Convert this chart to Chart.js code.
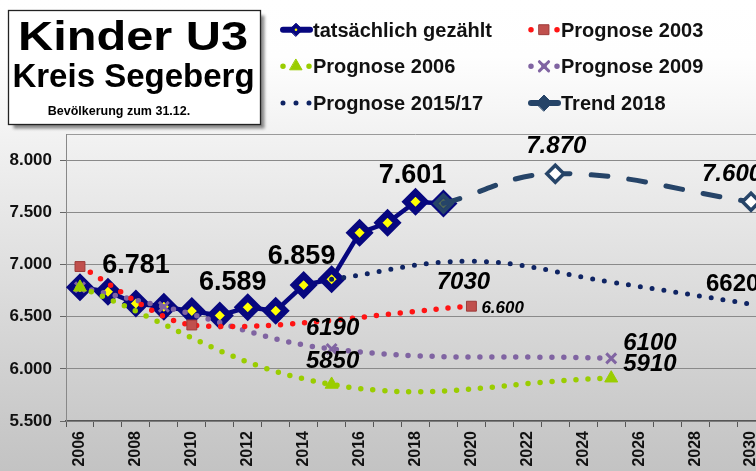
<!DOCTYPE html>
<html>
<head>
<meta charset="utf-8">
<title>Kinder U3 Kreis Segeberg</title>
<script src="https://cdn.jsdelivr.net/npm/chart.js@4.4.1/dist/chart.umd.min.js"></script>
<style>
  html, body { margin: 0; padding: 0; overflow: hidden; background: #fff; }
  #chart { display: block; }
</style>
</head>
<body>
<canvas id="chart" width="766" height="471"></canvas>
<script>
// years on the category axis
var years = ['2006', '2007', '2008', '2009', '2010', '2011', '2012', '2013', '2014', '2015',
             '2016', '2017', '2018', '2019', '2020', '2021', '2022', '2023', '2024', '2025',
             '2026', '2027', '2028', '2029', '2030'];
var xTickLabels = ['2006', '2008', '2010', '2012', '2014', '2016', '2018', '2020', '2022', '2024', '2026', '2028', '2030'];
var yTicks = [5500, 6000, 6500, 7000, 7500, 8000];

//                2006  2007  2008  2009  2010  2011  2012  2013  2014  2015  2016  2017  2018  2019  2020  ...
var actual   = [6781, 6738, 6626, 6594, 6553, 6511, 6589, 6556, 6802, 6859, 7303, 7399, 7601, 7585, null,
                null, null, null, null, null, null, null, null, null, null];
var prog2003 = [6980, null, null, null, 6420, null, null, null, null, null, null, null, null, null, 6600,
                null, null, null, null, null, null, null, null, null, null];
var prog2006 = [6781, null, null, null, null, null, null, null, null, 5850, null, null, null, null, null,
                null, null, null, null, 5910, null, null, null, null, null];
var prog2009 = [6781, null, null, 6594, null, null, null, null, null, 6190, null, null, null, null, null,
                null, null, null, null, 6100, null, null, null, null, null];
var prog1517 = [null, null, null, null, null, null, null, null, null, 6859, null, null, null, null, 7030,
                null, null, null, null, 6830, null, null, null, null, 6620];
var trend18  = [null, null, null, null, null, null, null, null, null, null, null, null, null, 7585, null,
                null, null, 7870, null, null, null, null, null, null, 7600];

// value labels: which point, offset from it, style
var valueLabels = [
  { series: actual,   year: '2006', dx: 56,  dy: -14, dots: true,  italic: false, size: 27, align: 'center' },
  { series: actual,   year: '2012', dx: -15, dy: -17, dots: true,  italic: false, size: 27, align: 'center' },
  { series: actual,   year: '2015', dx: -30, dy: -15, dots: true,  italic: false, size: 27, align: 'center' },
  { series: actual,   year: '2018', dx: -3,  dy: -19, dots: true,  italic: false, size: 27, align: 'center' },
  { series: trend18,  year: '2023', dx: 1,   dy: -21, dots: true,  italic: true,  size: 24, align: 'center' },
  { series: trend18,  year: '2030', dx: -49, dy: -21, dots: true,  italic: true,  size: 24, align: 'left' },
  { series: prog1517, year: '2020', dx: -8,  dy: 28,  dots: false, italic: true,  size: 24, align: 'center' },
  { series: prog1517, year: '2030', dx: -45, dy: -13, dots: false, italic: false, size: 24, align: 'left' },
  { series: prog2003, year: '2020', dx: 10,  dy: 7,   dots: true,  italic: true,  size: 17, align: 'left' },
  { series: prog2009, year: '2015', dx: 1,   dy: -14, dots: false, italic: true,  size: 24, align: 'center' },
  { series: prog2006, year: '2015', dx: 1,   dy: -16, dots: false, italic: true,  size: 24, align: 'center' },
  { series: prog2009, year: '2025', dx: 12,  dy: -8,  dots: false, italic: true,  size: 24, align: 'left' },
  { series: prog2006, year: '2025', dx: 12,  dy: -7,  dots: false, italic: true,  size: 24, align: 'left' }
];

var FONT = "'Liberation Sans', Arial, sans-serif";
var NAVY = '#07077f';
var SLATE = '#264468';

function fmt(v) {
  return String(v).replace(/\B(?=(\d{3})+(?!\d))/g, '.');
}

Chart.defaults.font.family = FONT;

var backgroundPlugin = {
  id: 'background',
  beforeDraw: function (chart) {
    var c = chart.ctx, a = chart.chartArea;
    var g = c.createLinearGradient(0, 0, 0, chart.height);
    g.addColorStop(0, '#ffffff');
    g.addColorStop(0.12, '#fefefe');
    g.addColorStop(0.27, '#f3f3f3');
    g.addColorStop(0.6, '#dddddd');
    g.addColorStop(0.9, '#c9c9c9');
    g.addColorStop(1, '#c3c3c3');
    c.save();
    c.fillStyle = g;
    c.fillRect(0, 0, chart.width, chart.height);
    c.strokeStyle = '#9a9a9a';
    c.lineWidth = 1;
    c.beginPath();
    c.moveTo(a.left, a.top + 0.5);
    c.lineTo(a.right, a.top + 0.5);
    c.stroke();
    c.restore();
  }
};

var titlePlugin = {
  id: 'titleBox',
  afterDraw: function (chart) {
    var c = chart.ctx;
    c.save();
    c.shadowColor = 'rgba(0,0,0,0.45)';
    c.shadowOffsetX = 4;
    c.shadowOffsetY = 4;
    c.shadowBlur = 3;
    c.fillStyle = '#ffffff';
    c.fillRect(8.5, 10.5, 252, 114);
    c.shadowColor = 'transparent';
    c.strokeStyle = '#222';
    c.lineWidth = 1.3;
    c.strokeRect(8.5, 10.5, 252, 114);

    c.fillStyle = '#000';
    c.textAlign = 'center';
    c.textBaseline = 'alphabetic';
    c.font = 'bold 40px ' + FONT;
    var w = c.measureText('Kinder U3').width;
    c.save();
    c.translate(133, 49.5);
    c.scale(230 / w, 1);
    c.fillText('Kinder U3', 0, 0);
    c.restore();
    c.font = 'bold 33px ' + FONT;
    c.fillText('Kreis Segeberg', 133.5, 87);
    c.font = 'bold 12.5px ' + FONT;
    c.fillText('Bevölkerung zum 31.12.', 119, 115);
    c.restore();
  }
};

var legendPlugin = {
  id: 'legendGrid',
  afterDraw: function (chart) {
    var c = chart.ctx;
    var colX = [280, 528];
    var rowBase = [36.7, 73.3, 110];
    chart.data.datasets.forEach(function (ds, i) {
      var x0 = colX[i % 2];
      var base = rowBase[Math.floor(i / 2)];
      var y = base - 7;
      var dotted = ds.borderDash && ds.borderDash[0] === 0;
      c.save();
      c.strokeStyle = ds.borderColor;
      c.lineWidth = dotted ? ds.borderWidth : 6;
      c.lineCap = 'round';
      c.setLineDash(dotted ? [0, 13] : []);
      c.beginPath();
      c.moveTo(x0 + 3, y);
      c.lineTo(x0 + 30, y);
      c.stroke();
      c.setLineDash([]);
      if (ds.legendMarker) {
        var m = ds.legendMarker;
        c.fillStyle = m.fill;
        c.strokeStyle = m.stroke;
        c.lineWidth = m.borderWidth;
        Chart.helpers.drawPoint(c, {
          pointStyle: ds.pointStyle, radius: m.radius, borderWidth: m.borderWidth, rotation: 0
        }, x0 + 16, y);
        if (m.dot) {
          c.fillStyle = m.dot;
          c.beginPath();
          c.arc(x0 + 16, y, 1.3, 0, Math.PI * 2);
          c.fill();
        }
      }
      c.fillStyle = '#111';
      c.font = 'bold 20px ' + FONT;
      c.textAlign = 'left';
      c.textBaseline = 'alphabetic';
      c.fillText(ds.label, x0 + 33, base);
      c.restore();
    });
  }
};

var valueLabelPlugin = {
  id: 'valueLabels',
  afterDatasetsDraw: function (chart) {
    var c = chart.ctx, xs = chart.scales.x, ys = chart.scales.y;
    c.save();
    c.fillStyle = '#000';
    c.textBaseline = 'alphabetic';
    valueLabels.forEach(function (l) {
      var i = years.indexOf(l.year);
      var v = l.series[i];
      var px = xs.getPixelForValue(i);
      var py = ys.getPixelForValue(v);
      c.font = (l.italic ? 'italic ' : '') + 'bold ' + l.size + 'px ' + FONT;
      c.textAlign = l.align;
      c.fillText(l.dots ? fmt(v) : String(v), px + l.dx, py + l.dy);
    });
    c.restore();
  }
};

var ctx = document.getElementById('chart').getContext('2d');
var chart = new Chart(ctx, {
  type: 'line',
  data: {
    labels: years,
    datasets: [{
      label: 'tatsächlich gezählt',
      data: actual,
      borderColor: NAVY,
      borderWidth: 4.5,
      tension: 0,
      pointStyle: 'rectRot',
      pointRadius: 9.5,
      pointBorderWidth: 6.4,
      pointBackgroundColor: '#ffff00',
      pointBorderColor: NAVY,
      order: 10,
      legendMarker: { fill: NAVY, stroke: NAVY, radius: 6.5, borderWidth: 1, dot: '#ffff00' }
    }, {
      label: 'Prognose 2003',
      data: prog2003,
      borderColor: '#ff1414',
      borderWidth: 5.5,
      borderDash: [0, 12],
      borderCapStyle: 'round',
      tension: 0.28,
      spanGaps: true,
      pointStyle: 'rect',
      pointRadius: 7,
      pointBackgroundColor: '#c0504d',
      pointBorderColor: '#9e3a38',
      pointBorderWidth: 1,
      legendMarker: { fill: '#c0504d', stroke: '#9e3a38', radius: 7, borderWidth: 1 }
    }, {
      label: 'Prognose 2006',
      data: prog2006,
      borderColor: '#9acd00',
      borderWidth: 5.5,
      borderDash: [0, 12],
      borderCapStyle: 'round',
      tension: 0.4,
      spanGaps: true,
      pointStyle: 'triangle',
      pointRadius: 7.5,
      pointBackgroundColor: '#9acd00',
      pointBorderColor: '#9acd00',
      pointBorderWidth: 1,
      legendMarker: { fill: '#9acd00', stroke: '#9acd00', radius: 7, borderWidth: 1 }
    }, {
      label: 'Prognose 2009',
      data: prog2009,
      borderColor: '#8064a2',
      borderWidth: 5.5,
      borderDash: [0, 12],
      borderCapStyle: 'round',
      tension: 0.4,
      spanGaps: true,
      pointStyle: 'crossRot',
      pointRadius: 7,
      pointBackgroundColor: '#8064a2',
      pointBorderColor: '#8064a2',
      pointBorderWidth: 3,
      legendMarker: { fill: '#8064a2', stroke: '#8064a2', radius: 6.5, borderWidth: 3 }
    }, {
      label: 'Prognose 2015/17',
      data: prog1517,
      borderColor: '#0f2463',
      borderWidth: 5,
      borderDash: [0, 12],
      borderCapStyle: 'round',
      tension: 0.4,
      spanGaps: true,
      pointRadius: 0
    }, {
      label: 'Trend 2018',
      data: trend18,
      borderColor: SLATE,
      borderWidth: 5,
      borderDash: [17, 21],
      borderCapStyle: 'round',
      tension: 0.4,
      spanGaps: true,
      pointStyle: 'rectRot',
      pointRadius: 8.5,
      pointBorderWidth: 3.5,
      pointBorderColor: SLATE,
      pointBackgroundColor: function (c) {
        return actual[c.dataIndex] != null ? 'rgba(38,68,104,0.82)' : '#ffffff';
      },
      legendMarker: { fill: SLATE, stroke: SLATE, radius: 8, borderWidth: 1 }
    }]
  },
  options: {
    responsive: false,
    animation: false,
    layout: { autoPadding: false, padding: { top: 134, left: 0, right: 1, bottom: 0 } },
    plugins: {
      legend: { display: false },
      tooltip: { enabled: false }
    },
    scales: {
      x: {
        type: 'category',
        offset: true,
        grid: { offset: true, drawOnChartArea: false, drawTicks: true, tickLength: 6, tickColor: '#555', lineWidth: 1 },
        border: { display: true, color: '#555', width: 1.2 },
        ticks: {
          autoSkip: false,
          minRotation: 90,
          maxRotation: 90,
          padding: 4,
          color: '#111',
          font: { size: 16, weight: 'bold' },
          callback: function (val, i) {
            return xTickLabels.indexOf(years[i]) >= 0 ? years[i] : '';
          }
        },
        afterFit: function (s) {
          s.height = 50;
          s.paddingLeft = 0;
          s.paddingRight = 0;
        }
      },
      y: {
        min: 5500,
        max: 8250,
        afterBuildTicks: function (s) {
          s.ticks = yTicks.map(function (v) { return { value: v }; });
        },
        grid: { color: '#8a8a8a', lineWidth: 1, tickLength: 6, tickColor: '#666' },
        border: { color: '#888', width: 1 },
        ticks: {
          padding: 8,
          color: '#111',
          font: { size: 17, weight: 'bold' },
          callback: function (v) { return fmt(v); }
        },
        afterFit: function (s) {
          s.width = 66;
          s.paddingTop = 0;
          s.paddingBottom = 0;
        }
      }
    }
  },
  plugins: [backgroundPlugin, valueLabelPlugin, titlePlugin, legendPlugin]
});
</script>
</body>
</html>
